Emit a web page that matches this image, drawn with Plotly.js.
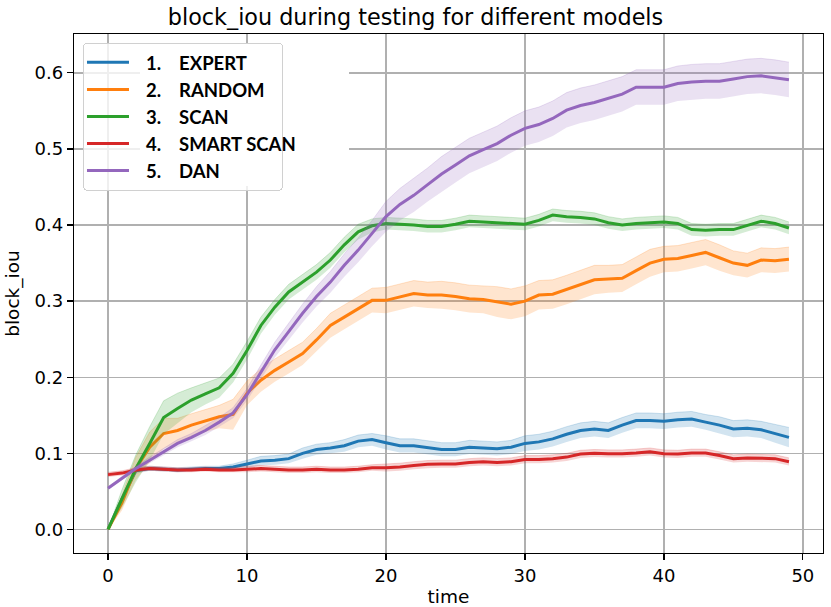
<!DOCTYPE html>
<html>
<head>
<meta charset="utf-8">
<script src="https://cdn.plot.ly/plotly-3.0.1.min.js"></script>
<style>html,body{margin:0;padding:0;background:#fff;}#chart{width:831px;height:607px;}</style>
</head>
<body>
<div id="chart"></div>
<script>
const time = [0,1,2,3,4,5,6,7,8,9,10,11,12,13,14,15,16,17,18,19,20,21,22,23,24,25,26,27,28,29,30,31,32,33,34,35,36,37,38,39,40,41,42,43,44,45,46,47,48,49];

const expert = [0.000,0.040,0.077,0.080,0.079,0.078,0.079,0.080,0.080,0.082,0.086,0.090,0.091,0.093,0.100,0.105,0.107,0.110,0.116,0.118,0.114,0.110,0.110,0.107,0.105,0.105,0.108,0.107,0.106,0.108,0.113,0.115,0.119,0.125,0.130,0.132,0.130,0.137,0.143,0.143,0.142,0.144,0.145,0.141,0.137,0.132,0.133,0.131,0.126,0.121];
const random = [0.000,0.035,0.080,0.108,0.126,0.130,0.137,0.143,0.148,0.151,0.179,0.196,0.209,0.220,0.231,0.249,0.268,0.279,0.290,0.301,0.301,0.306,0.310,0.308,0.308,0.306,0.303,0.302,0.299,0.296,0.300,0.308,0.309,0.315,0.322,0.328,0.329,0.330,0.340,0.350,0.355,0.356,0.360,0.364,0.357,0.350,0.347,0.354,0.353,0.355];
const scan = [0.000,0.040,0.080,0.113,0.147,0.159,0.170,0.178,0.186,0.205,0.235,0.268,0.292,0.312,0.325,0.338,0.354,0.374,0.391,0.399,0.402,0.401,0.400,0.398,0.398,0.401,0.405,0.404,0.403,0.402,0.401,0.406,0.413,0.411,0.410,0.408,0.403,0.400,0.402,0.403,0.404,0.402,0.394,0.393,0.394,0.394,0.400,0.405,0.402,0.396];
const smartScan = [0.072,0.074,0.078,0.080,0.079,0.078,0.078,0.079,0.078,0.078,0.079,0.080,0.079,0.078,0.078,0.079,0.078,0.078,0.079,0.081,0.081,0.082,0.084,0.0855,0.086,0.086,0.088,0.089,0.088,0.089,0.092,0.092,0.093,0.095,0.099,0.100,0.0995,0.0995,0.1005,0.102,0.0995,0.099,0.1005,0.1005,0.097,0.093,0.094,0.0935,0.093,0.089];
const dan = [0.054,0.067,0.080,0.091,0.102,0.113,0.121,0.130,0.141,0.153,0.177,0.207,0.236,0.260,0.284,0.306,0.325,0.347,0.367,0.389,0.411,0.427,0.439,0.453,0.467,0.479,0.491,0.499,0.507,0.518,0.527,0.532,0.540,0.551,0.557,0.561,0.566,0.572,0.581,0.581,0.581,0.586,0.588,0.589,0.589,0.592,0.595,0.596,0.594,0.591];

// confidence band half-widths read from the shaded areas
const expertCI = [0.000,0.004,0.004,0.003,0.003,0.003,0.003,0.003,0.003,0.004,0.005,0.006,0.006,0.006,0.007,0.007,0.007,0.008,0.008,0.008,0.009,0.009,0.009,0.009,0.009,0.009,0.009,0.009,0.009,0.009,0.010,0.010,0.010,0.010,0.010,0.010,0.010,0.010,0.010,0.010,0.010,0.010,0.010,0.010,0.011,0.011,0.011,0.011,0.012,0.013];
const randomCI = [0.000,0.010,0.015,0.020,0.020,0.016,0.015,0.015,0.015,0.020,0.016,0.015,0.015,0.015,0.015,0.015,0.016,0.016,0.016,0.016,0.017,0.017,0.017,0.017,0.018,0.018,0.018,0.018,0.020,0.020,0.020,0.019,0.019,0.019,0.019,0.019,0.018,0.018,0.018,0.018,0.017,0.017,0.017,0.017,0.017,0.016,0.016,0.016,0.016,0.016];
const scanCI = [0.000,0.012,0.018,0.022,0.022,0.020,0.016,0.014,0.013,0.012,0.012,0.011,0.010,0.010,0.010,0.010,0.010,0.010,0.010,0.009,0.008,0.008,0.008,0.008,0.008,0.008,0.008,0.008,0.008,0.008,0.008,0.008,0.008,0.008,0.008,0.008,0.008,0.008,0.008,0.008,0.008,0.008,0.008,0.008,0.008,0.008,0.008,0.008,0.008,0.008];
const smartScanCI = [0.003,0.003,0.003,0.003,0.003,0.003,0.003,0.003,0.003,0.003,0.004,0.004,0.004,0.004,0.004,0.004,0.004,0.004,0.004,0.004,0.005,0.005,0.005,0.005,0.005,0.005,0.005,0.005,0.005,0.005,0.005,0.005,0.005,0.005,0.005,0.005,0.005,0.005,0.005,0.005,0.005,0.005,0.005,0.005,0.005,0.005,0.005,0.005,0.005,0.005];
const danCI = [0.002,0.003,0.003,0.004,0.004,0.005,0.005,0.006,0.006,0.007,0.008,0.009,0.010,0.011,0.012,0.013,0.014,0.015,0.016,0.017,0.020,0.021,0.022,0.022,0.023,0.023,0.023,0.023,0.023,0.023,0.023,0.023,0.023,0.023,0.023,0.023,0.023,0.023,0.023,0.023,0.023,0.023,0.023,0.023,0.023,0.023,0.023,0.023,0.023,0.023];

const labels = ["1.\u00a0\u00a0\u00a0\u00a0EXPERT","2.\u00a0\u00a0\u00a0\u00a0RANDOM","3.\u00a0\u00a0\u00a0\u00a0SCAN","4.\u00a0\u00a0\u00a0\u00a0SMART SCAN","5.\u00a0\u00a0\u00a0\u00a0DAN"];
const colors = ["#1f77b4","#ff7f0e","#2ca02c","#d62728","#9467bd"];
const fills = ["rgba(31,119,180,0.2)","rgba(255,127,14,0.2)","rgba(44,160,44,0.2)","rgba(214,39,40,0.2)","rgba(148,103,189,0.2)"];

const series = [expert, random, scan, smartScan, dan];
const cis = [expertCI, randomCI, scanCI, smartScanCI, danCI];

const traces = [];
series.forEach((s, k) => {
  const lo = s.map((v, i) => v - cis[k][i]);
  const hi = s.map((v, i) => v + cis[k][i]);
  traces.push({x: time, y: lo, type: 'scatter', mode: 'lines', line: {width: 0, color: fills[k]}, showlegend: false, hoverinfo: 'skip'});
  traces.push({x: time, y: hi, type: 'scatter', mode: 'lines', line: {width: 1, color: fills[k]}, fill: 'tonexty', fillcolor: fills[k], showlegend: false, hoverinfo: 'skip'});
  traces.push({x: time, y: s, type: 'scatter', mode: 'lines', name: labels[k], line: {width: 3, color: colors[k]}});
});

const tickFont = {family: 'DejaVu Sans', size: 18, color: '#000'};
const layout = {
  width: 831, height: 607,
  margin: {l: 74, r: 8, t: 34, b: 54},
  paper_bgcolor: '#fff', plot_bgcolor: '#fff',
  title: {text: 'block_iou during testing for different models', font: {family: 'DejaVu Sans', size: 22.3, color: '#000'}, x: 0.5, xanchor: 'center', y: 0.971, yanchor: 'middle'},
  xaxis: {
    range: [-2.45, 51.45], tickvals: [0,10,20,30,40,50], ticktext: ['0','10','20','30','40','50'],
    showgrid: true, gridcolor: '#b0b0b0', gridwidth: 1.4, zeroline: false,
    showline: true, linecolor: '#000', linewidth: 1.3, mirror: true,
    ticks: 'outside', ticklen: 6, tickwidth: 1.3, tickcolor: '#000',
    tickfont: tickFont,
    title: {text: 'time', font: {family: 'DejaVu Sans', size: 18.5, color: '#000'}, standoff: 12}
  },
  yaxis: {
    range: [-0.031, 0.651], tickvals: [0,0.1,0.2,0.3,0.4,0.5,0.6], ticktext: ['0.0','0.1','0.2','0.3','0.4','0.5','0.6'],
    showgrid: true, gridcolor: '#b0b0b0', gridwidth: 1.4, zeroline: false,
    showline: true, linecolor: '#000', linewidth: 1.3, mirror: true,
    ticks: 'outside', ticklen: 6, tickwidth: 1.3, tickcolor: '#000',
    tickfont: tickFont,
    title: {text: 'block_iou', font: {family: 'DejaVu Sans', size: 18.5, color: '#000'}, standoff: 10}
  },
  shapes: [
    {type: 'rect', xref: 'paper', yref: 'paper', x0: 0.0881, x1: 0.3672, y0: 0.7071, y1: 0.9807,
     fillcolor: '#ffffff', line: {width: 0}, layer: 'above'}
  ],
  legend: {
    x: 0.012, y: 0.983, xanchor: 'left', yanchor: 'top',
    traceorder: 'normal',
    bgcolor: 'rgba(255,255,255,0.8)', bordercolor: '#d0d0d0', borderwidth: 1,
    font: {family: 'Lato', size: 18.5, color: '#000', weight: 'bold'},
    itemwidth: 52,
    tracegroupgap: 0
  },
  showlegend: true
};

Plotly.newPlot('chart', traces, layout, {displayModeBar: false, staticPlot: true}).then(() => {
  document.querySelectorAll('.legend .legendlines path').forEach(p => p.setAttribute('d', 'M3,0h42'));
  const bg = document.querySelector('.legend rect.bg');
  if (bg) { bg.setAttribute('width', '199'); bg.setAttribute('rx', '4'); bg.setAttribute('ry', '4'); }
});
</script>
</body>
</html>
